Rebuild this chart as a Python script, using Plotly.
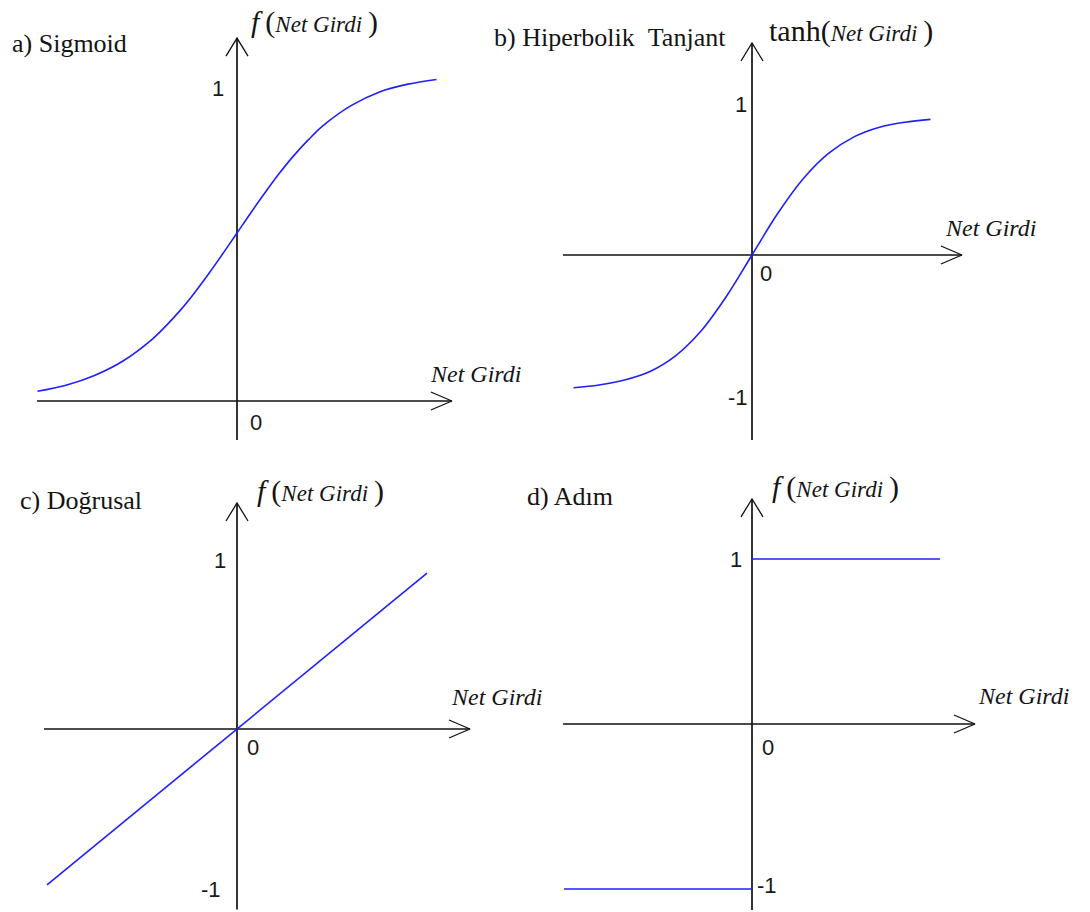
import plotly.graph_objects as go

W, H = 1090, 912

# ---------------- data ----------------
sig_x = [-3.5, -3, -2.5, -2, -1.5, -1.25, -1, -0.75, -0.5, -0.25, 0, 0.25, 0.5, 0.75, 1, 1.25, 1.5, 2, 2.5, 3, 3.5]
sig_y = [0.029, 0.047, 0.076, 0.119, 0.182, 0.223, 0.269, 0.321, 0.378, 0.438, 0.5, 0.562, 0.622, 0.679, 0.731, 0.777, 0.818, 0.879, 0.92, 0.943, 0.957]

tanh_x = [-2.1, -1.8, -1.5, -1.2, -0.9, -0.6, -0.3, 0, 0.3, 0.6, 0.9, 1.2, 1.5, 1.8, 2.1]
tanh_y = [-0.935, -0.915, -0.88, -0.82, -0.71, -0.535, -0.29, 0, 0.29, 0.535, 0.715, 0.832, 0.9, 0.935, 0.955]

lin_x = [-0.95, 0, 0.95]
lin_y = [-0.95, 0, 0.95]

step_x = [-1, 0, None, 0, 1]
step_y = [-1, -1, None, 1, 1]

titles = ["a) Sigmoid", "b) Hiperbolik\u2002Tanjant", "c) Doğrusal", "d) Adım"]
x_label = "Net Girdi"
y_labels = ["f", "tanh", "f", "f"]

# axis extents (data units) of drawn arrows per panel: (xmin, xmax, ymin, ymax)
axis_ext = [(-3.51, 3.77, -0.116, 1.08),
            (-2.224, 2.47, -1.303, 1.493),
            (-0.965, 1.165, -1.10, 1.378),
            (-1.005, 1.186, -1.127, 1.364)]

# tick labels per panel: (text, x, y) in data units
tick_labels = [
    [("1", -0.33, 0.93), ("0", 0.33, -0.065)],
    [("1", -0.13, 1.063), ("-1", -0.165, -1.007), ("0", 0.165, -0.127)],
    [("1", -0.085, 1.03), ("-1", -0.13, -0.98), ("0", 0.08, -0.115)],
    [("1", -0.085, 1.0), ("-1", 0.08, -0.98), ("0", 0.085, -0.14)],
]

# ---------------- layout geometry ----------------
# per panel: origin pixel (ox, oy), scale px/unit (sx, sy), pixel box (X0, X1, Y0, Y1)
panels = [
    dict(ox=237, oy=401, sx=57, sy=336, box=(0, 545, 0, 456)),
    dict(ox=752, oy=255, sx=85, sy=142, box=(545, 1090, 0, 456)),
    dict(ox=237, oy=729, sx=200, sy=164, box=(0, 545, 456, 912)),
    dict(ox=752, oy=724, sx=188, sy=165, box=(545, 1090, 456, 912)),
]

curves = [(sig_x, sig_y), (tanh_x, tanh_y), (lin_x, lin_y), (step_x, step_y)]

serif = "Liberation Serif"
sans = "Liberation Sans"
txt_col = "#141414"

fig = go.Figure()
layout = dict(width=W, height=H, margin=dict(l=0, r=0, t=0, b=0),
              paper_bgcolor="white", plot_bgcolor="rgba(0,0,0,0)",
              showlegend=False, annotations=[])

for i, p in enumerate(panels):
    n = "" if i == 0 else str(i + 1)
    X0, X1, Y0, Y1 = p["box"]
    xr = [(X0 - p["ox"]) / p["sx"], (X1 - p["ox"]) / p["sx"]]
    yr = [(p["oy"] - Y1) / p["sy"], (p["oy"] - Y0) / p["sy"]]
    layout["xaxis" + n] = dict(domain=[X0 / W, X1 / W], range=xr, visible=False,
                               anchor="y" + n, fixedrange=True)
    layout["yaxis" + n] = dict(domain=[1 - Y1 / H, 1 - Y0 / H], range=yr, visible=False,
                               anchor="x" + n, fixedrange=True)
    xa, ya = "x" + n, "y" + n
    xmin, xmax, ymin, ymax = axis_ext[i]

    # axes
    fig.add_trace(go.Scatter(x=[xmin, xmax, None, 0, 0], y=[0, 0, None, ymin, ymax],
                             mode="lines", line=dict(color="#111", width=1.7),
                             xaxis=xa, yaxis=ya, hoverinfo="skip"))
    # open V arrowheads
    bx, lx = 21 / p["sx"], 9 / p["sy"]
    by, ly = 18 / p["sy"], 11 / p["sx"]
    fig.add_trace(go.Scatter(
        x=[xmax - bx, xmax, xmax - bx, None, -ly, 0, ly],
        y=[lx, 0, -lx, None, ymax - by, ymax, ymax - by],
        mode="lines", line=dict(color="#111", width=1.3),
        xaxis=xa, yaxis=ya, hoverinfo="skip"))
    # curve
    cx, cy = curves[i]
    fig.add_trace(go.Scatter(x=cx, y=cy, mode="lines",
                             line=dict(color="#1f1fff", width=1.6,
                                       shape="spline" if i < 2 else "linear",
                                       smoothing=1.0),
                             connectgaps=False, xaxis=xa, yaxis=ya, hoverinfo="skip"))

    for t, tx, ty in tick_labels[i]:
        layout["annotations"].append(dict(
            text=t, x=tx, y=ty, xref=xa, yref=ya, showarrow=False,
            xanchor="center", yanchor="middle",
            font=dict(family=sans, size=22, color="#1a1a1a")))

# titles (pixel positions -> paper)
title_pos = [(10, 43), (492, 37), (18, 500), (525, 497)]
for t, (X, Y) in zip(titles, title_pos):
    layout["annotations"].append(dict(
        text=t, x=X / W, y=1 - Y / H, xref="paper", yref="paper", showarrow=False,
        xanchor="left", yanchor="middle", font=dict(family=serif, size=26, color=txt_col)))

# y-axis labels
ylab_pos = [(249, 22), (767, 31), (255, 491), (770, 487)]
for lab, (X, Y) in zip(y_labels, ylab_pos):
    head = "<i>f</i>\u2009" if lab == "f" else lab
    txt = head + "(<i><span style='font-size:23px'>" + x_label + "</span></i>\u2009)"
    layout["annotations"].append(dict(
        text=txt, x=X / W, y=1 - Y / H, xref="paper", yref="paper", showarrow=False,
        xanchor="left", yanchor="middle", font=dict(family=serif, size=30, color=txt_col)))

# x-axis labels
xlab_pos = [(428, 374), (943, 228), (449, 697), (976, 696)]
for X, Y in xlab_pos:
    layout["annotations"].append(dict(
        text="<i>" + x_label + "</i>", x=X / W, y=1 - Y / H, xref="paper", yref="paper",
        showarrow=False, xanchor="left", yanchor="middle",
        font=dict(family=serif, size=24, color=txt_col)))

fig.update_layout(**layout)
fig.write_html("out.html", config=dict(displayModeBar=False),
               post_script="document.body.style.margin='0';document.body.style.overflow='hidden';")
